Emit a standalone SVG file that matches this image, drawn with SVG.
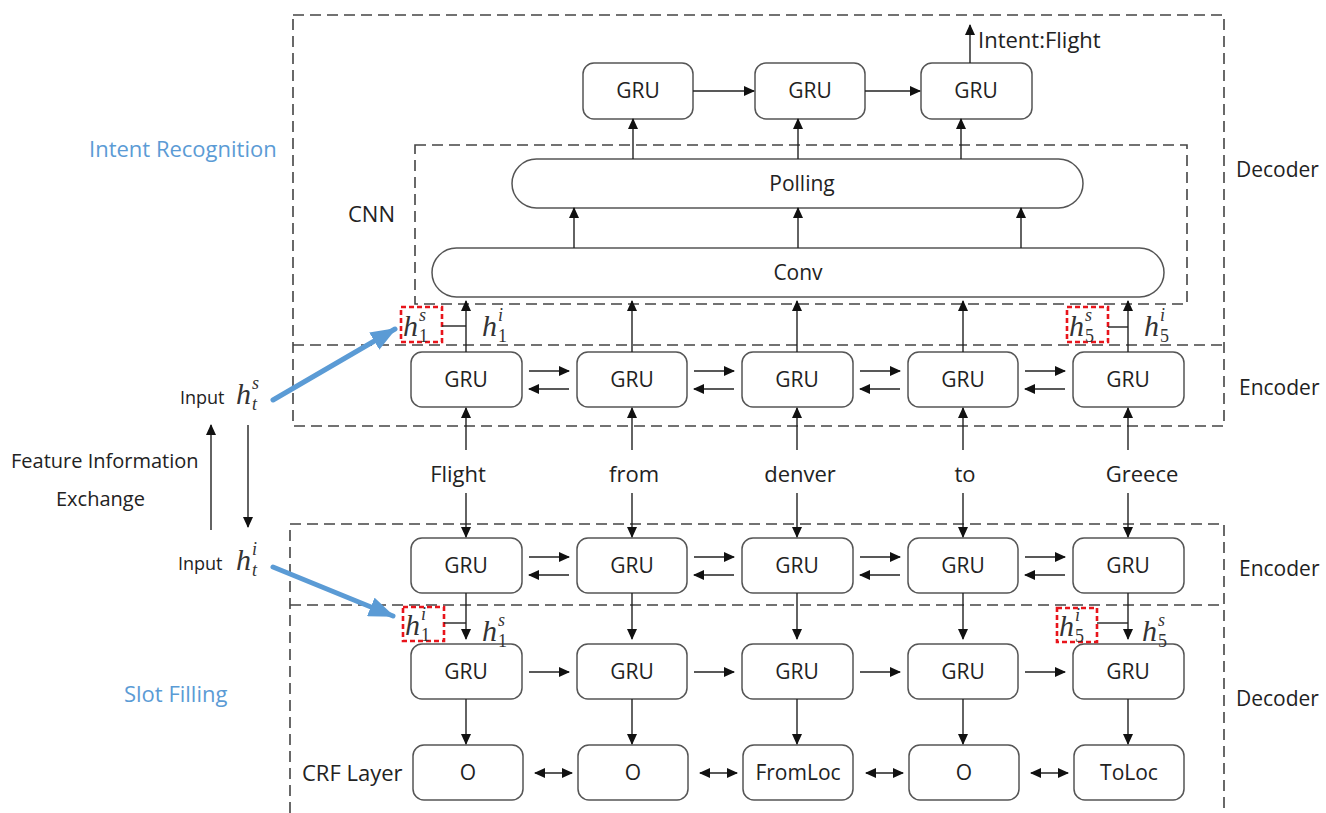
<svg xmlns="http://www.w3.org/2000/svg" width="1326" height="813" viewBox="0 0 1326 813">
<style>
.dash{fill:none;stroke:#444;stroke-width:1.6;stroke-dasharray:11 6}
.box{fill:#fff;stroke:#555;stroke-width:1.5}
.t{font-family:"Open Sans","Liberation Sans",sans-serif;font-size:21px;fill:#222;text-anchor:middle}
.w{font-family:"Open Sans","Liberation Sans",sans-serif;font-size:22px;fill:#222;text-anchor:middle}
.l{font-family:"Open Sans","Liberation Sans",sans-serif;font-size:21px;fill:#222}
.blue{font-family:"Open Sans","Liberation Sans",sans-serif;font-size:22px;fill:#5b9bd5}
.m{font-family:"Liberation Serif","DejaVu Serif",serif;font-style:italic;font-size:30px;fill:#333}
.sp{font-family:"Liberation Serif","DejaVu Serif",serif;font-style:italic;font-size:18px;fill:#333}
.sb{font-family:"Liberation Serif","DejaVu Serif",serif;font-size:18px;fill:#333}
.ln{stroke:#222;stroke-width:1.4;fill:none}
.ar{stroke:#222;stroke-width:1.4;fill:none;marker-end:url(#ah)}
.dbl{stroke:#222;stroke-width:1.4;fill:none;marker-end:url(#ah);marker-start:url(#ah)}
.red{fill:none;stroke:#e8141b;stroke-width:2.6;stroke-dasharray:5 3}
.bl{stroke:#5b9bd5;stroke-width:5;fill:none;stroke-linecap:round;marker-end:url(#bh)}
</style>
<defs>
<marker id="ah" markerUnits="userSpaceOnUse" markerWidth="11" markerHeight="10" refX="10" refY="5" orient="auto-start-reverse"><path d="M0,0 L11,5 L0,10 z" fill="#111"/></marker>
<marker id="bh" markerUnits="userSpaceOnUse" markerWidth="26" markerHeight="20" refX="24" refY="10" orient="auto"><path d="M0,0 L26,10 L0,20 z" fill="#5b9bd5"/></marker>
</defs>
<rect width="1326" height="813" fill="#fff"/>

<g id="frames">
<rect class="dash" x="293" y="15" width="931" height="411"/>
<line class="dash" x1="293" y1="345" x2="1224" y2="345"/>
<rect class="dash" x="415" y="145" width="772" height="159"/>
<path class="dash" d="M290,813 L290,524 L1224,524 L1224,813"/>
<line class="dash" x1="290" y1="605" x2="1224" y2="605"/>
</g>

<g id="labels">
<text class="blue" x="89" y="157">Intent Recognition</text>
<text class="blue" x="124" y="702">Slot Filling</text>
<text class="l" x="348" y="222" style="font-size:22px">CNN</text>
<text class="l" x="302" y="781" style="font-size:22px">CRF Layer</text>
<text class="l" x="1236" y="177">Decoder</text>
<text class="l" x="1239" y="395">Encoder</text>
<text class="l" x="1239" y="576">Encoder</text>
<text class="l" x="1236" y="706">Decoder</text>
<text class="l" x="11" y="468" style="font-size:20px">Feature Information</text>
<text class="l" x="56" y="506" style="font-size:20px">Exchange</text>
<text class="l" x="180" y="404" style="font-size:18px">Input</text>
<text class="m" x="236" y="404">h</text><text class="sp" x="252" y="389">s</text><text class="sp" x="252" y="410">t</text>
<text class="l" x="178" y="570" style="font-size:18px">Input</text>
<text class="m" x="236" y="570">h</text><text class="sp" x="252" y="555">i</text><text class="sp" x="252" y="576">t</text>
</g>

<g id="intent-decoder">
<g id="gru-d1"><rect class="box" x="583" y="63" width="110" height="56" rx="11"/><text class="t" x="638" y="98">GRU</text></g>
<g id="gru-d2"><rect class="box" x="755" y="63" width="110" height="56" rx="11"/><text class="t" x="810" y="98">GRU</text></g>
<g id="gru-d3"><rect class="box" x="921" y="63" width="111" height="56" rx="11"/><text class="t" x="976" y="98">GRU</text></g>
<text class="l" x="978" y="48" style="font-size:22px">Intent:Flight</text>
</g>

<g id="cnn">
<g id="polling"><rect class="box" x="512" y="159" width="571" height="49" rx="24.5"/><text class="t" x="802" y="191">Polling</text></g>
<g id="conv"><rect class="box" x="432" y="248" width="732" height="49" rx="24.5"/><text class="t" x="798" y="280">Conv</text></g>
</g>

<g id="encoder-top">
<g><rect class="box" x="411" y="352" width="111" height="55" rx="11"/><text class="t" x="466" y="387">GRU</text></g>
<g><rect class="box" x="577" y="352" width="110" height="55" rx="11"/><text class="t" x="632" y="387">GRU</text></g>
<g><rect class="box" x="742" y="352" width="111" height="55" rx="11"/><text class="t" x="797" y="387">GRU</text></g>
<g><rect class="box" x="908" y="352" width="110" height="55" rx="11"/><text class="t" x="963" y="387">GRU</text></g>
<g><rect class="box" x="1073" y="352" width="111" height="55" rx="11"/><text class="t" x="1128" y="387">GRU</text></g>
</g>

<g id="words">
<text class="w" x="458" y="482">Flight</text>
<text class="w" x="634" y="482">from</text>
<text class="w" x="800" y="482">denver</text>
<text class="w" x="965" y="482">to</text>
<text class="w" x="1142" y="482">Greece</text>
</g>

<g id="encoder-bottom">
<g><rect class="box" x="411" y="538" width="111" height="55" rx="11"/><text class="t" x="466" y="573">GRU</text></g>
<g><rect class="box" x="577" y="538" width="110" height="55" rx="11"/><text class="t" x="632" y="573">GRU</text></g>
<g><rect class="box" x="742" y="538" width="111" height="55" rx="11"/><text class="t" x="797" y="573">GRU</text></g>
<g><rect class="box" x="908" y="538" width="110" height="55" rx="11"/><text class="t" x="963" y="573">GRU</text></g>
<g><rect class="box" x="1073" y="538" width="111" height="55" rx="11"/><text class="t" x="1128" y="573">GRU</text></g>
</g>

<g id="slot-decoder">
<g><rect class="box" x="411" y="644" width="111" height="55" rx="11"/><text class="t" x="466" y="679">GRU</text></g>
<g><rect class="box" x="577" y="644" width="110" height="55" rx="11"/><text class="t" x="632" y="679">GRU</text></g>
<g><rect class="box" x="742" y="644" width="111" height="55" rx="11"/><text class="t" x="797" y="679">GRU</text></g>
<g><rect class="box" x="908" y="644" width="110" height="55" rx="11"/><text class="t" x="963" y="679">GRU</text></g>
<g><rect class="box" x="1073" y="644" width="111" height="55" rx="11"/><text class="t" x="1128" y="679">GRU</text></g>
</g>

<g id="crf">
<g><rect class="box" x="413" y="745" width="110" height="55" rx="11"/><text class="t" x="468" y="780">O</text></g>
<g><rect class="box" x="578" y="745" width="110" height="55" rx="11"/><text class="t" x="633" y="780">O</text></g>
<g><rect class="box" x="743" y="745" width="110" height="55" rx="11"/><text class="t" x="798" y="780">FromLoc</text></g>
<g><rect class="box" x="909" y="745" width="110" height="55" rx="11"/><text class="t" x="964" y="780">O</text></g>
<g><rect class="box" x="1074" y="745" width="110" height="55" rx="11"/><text class="t" x="1129" y="780">ToLoc</text></g>
</g>

<g id="hidden-states">
<rect class="red" x="401" y="307" width="41" height="35"/>
<text class="m" x="403" y="336">h</text><text class="sp" x="419" y="321">s</text><text class="sb" x="419" y="342">1</text>
<text class="m" x="482" y="336">h</text><text class="sp" x="498" y="321">i</text><text class="sb" x="498" y="342">1</text>
<rect class="red" x="1067" y="307" width="41" height="35"/>
<text class="m" x="1069" y="336">h</text><text class="sp" x="1085" y="321">s</text><text class="sb" x="1085" y="342">5</text>
<text class="m" x="1144" y="336">h</text><text class="sp" x="1160" y="321">i</text><text class="sb" x="1160" y="342">5</text>
<rect class="red" x="403" y="607" width="41" height="34"/>
<text class="m" x="405" y="635">h</text><text class="sp" x="421" y="620">i</text><text class="sb" x="421" y="641">1</text>
<text class="m" x="482" y="641">h</text><text class="sp" x="498" y="626">s</text><text class="sb" x="498" y="647">1</text>
<rect class="red" x="1057" y="608" width="40" height="34"/>
<text class="m" x="1059" y="636">h</text><text class="sp" x="1075" y="621">i</text><text class="sb" x="1075" y="642">5</text>
<text class="m" x="1142" y="641">h</text><text class="sp" x="1158" y="626">s</text><text class="sb" x="1158" y="647">5</text>
</g>

<g id="connectors">
<line class="ar" x1="693" y1="91" x2="754" y2="91"/>
<line class="ar" x1="865" y1="91" x2="920" y2="91"/>
<line class="ar" x1="970" y1="63" x2="970" y2="25"/>
<line class="ar" x1="633" y1="159" x2="633" y2="119"/>
<line class="ar" x1="798" y1="159" x2="798" y2="119"/>
<line class="ar" x1="961" y1="159" x2="961" y2="119"/>
<line class="ar" x1="574" y1="248" x2="574" y2="208"/>
<line class="ar" x1="798" y1="248" x2="798" y2="208"/>
<line class="ar" x1="1021" y1="248" x2="1021" y2="208"/>
<line class="ar" x1="466" y1="352" x2="466" y2="301"/>
<line class="ar" x1="632" y1="352" x2="632" y2="301"/>
<line class="ar" x1="797" y1="352" x2="797" y2="301"/>
<line class="ar" x1="963" y1="352" x2="963" y2="301"/>
<line class="ar" x1="1128" y1="352" x2="1128" y2="301"/>
<line class="ln" x1="442" y1="326" x2="466" y2="326"/>
<line class="ln" x1="1108" y1="327" x2="1128" y2="327"/>
<line class="ar" x1="529" y1="371" x2="569" y2="371"/><line class="ar" x1="569" y1="389" x2="529" y2="389"/>
<line class="ar" x1="694" y1="371" x2="734" y2="371"/><line class="ar" x1="734" y1="389" x2="694" y2="389"/>
<line class="ar" x1="860" y1="371" x2="900" y2="371"/><line class="ar" x1="900" y1="389" x2="860" y2="389"/>
<line class="ar" x1="1025" y1="371" x2="1065" y2="371"/><line class="ar" x1="1065" y1="389" x2="1025" y2="389"/>
<line class="ar" x1="466" y1="450" x2="466" y2="408"/><line class="ar" x1="466" y1="493" x2="466" y2="537"/>
<line class="ar" x1="632" y1="450" x2="632" y2="408"/><line class="ar" x1="632" y1="493" x2="632" y2="537"/>
<line class="ar" x1="797" y1="450" x2="797" y2="408"/><line class="ar" x1="797" y1="493" x2="797" y2="537"/>
<line class="ar" x1="963" y1="450" x2="963" y2="408"/><line class="ar" x1="963" y1="493" x2="963" y2="537"/>
<line class="ar" x1="1128" y1="450" x2="1128" y2="408"/><line class="ar" x1="1128" y1="493" x2="1128" y2="537"/>
<line class="ar" x1="529" y1="557" x2="569" y2="557"/><line class="ar" x1="569" y1="575" x2="529" y2="575"/>
<line class="ar" x1="694" y1="557" x2="734" y2="557"/><line class="ar" x1="734" y1="575" x2="694" y2="575"/>
<line class="ar" x1="860" y1="557" x2="900" y2="557"/><line class="ar" x1="900" y1="575" x2="860" y2="575"/>
<line class="ar" x1="1025" y1="557" x2="1065" y2="557"/><line class="ar" x1="1065" y1="575" x2="1025" y2="575"/>
<line class="ar" x1="466" y1="593" x2="466" y2="639"/>
<line class="ar" x1="632" y1="593" x2="632" y2="639"/>
<line class="ar" x1="797" y1="593" x2="797" y2="639"/>
<line class="ar" x1="963" y1="593" x2="963" y2="639"/>
<line class="ar" x1="1128" y1="593" x2="1128" y2="639"/>
<line class="ln" x1="444" y1="623" x2="466" y2="623"/>
<line class="ln" x1="1097" y1="623" x2="1128" y2="623"/>
<line class="ar" x1="529" y1="672" x2="569" y2="672"/>
<line class="ar" x1="694" y1="672" x2="734" y2="672"/>
<line class="ar" x1="860" y1="672" x2="900" y2="672"/>
<line class="ar" x1="1025" y1="672" x2="1065" y2="672"/>
<line class="ar" x1="466" y1="699" x2="466" y2="744"/>
<line class="ar" x1="632" y1="699" x2="632" y2="744"/>
<line class="ar" x1="797" y1="699" x2="797" y2="744"/>
<line class="ar" x1="963" y1="699" x2="963" y2="744"/>
<line class="ar" x1="1128" y1="699" x2="1128" y2="744"/>
<line class="dbl" x1="535" y1="773" x2="572" y2="773"/>
<line class="dbl" x1="700" y1="773" x2="737" y2="773"/>
<line class="dbl" x1="866" y1="773" x2="903" y2="773"/>
<line class="dbl" x1="1031" y1="773" x2="1068" y2="773"/>
<line class="ar" x1="211" y1="530" x2="211" y2="425"/>
<line class="ar" x1="248" y1="425" x2="248" y2="527"/>
<line class="bl" x1="273" y1="400" x2="395" y2="329"/>
<line class="bl" x1="273" y1="567" x2="393" y2="616"/>
</g>
</svg>
